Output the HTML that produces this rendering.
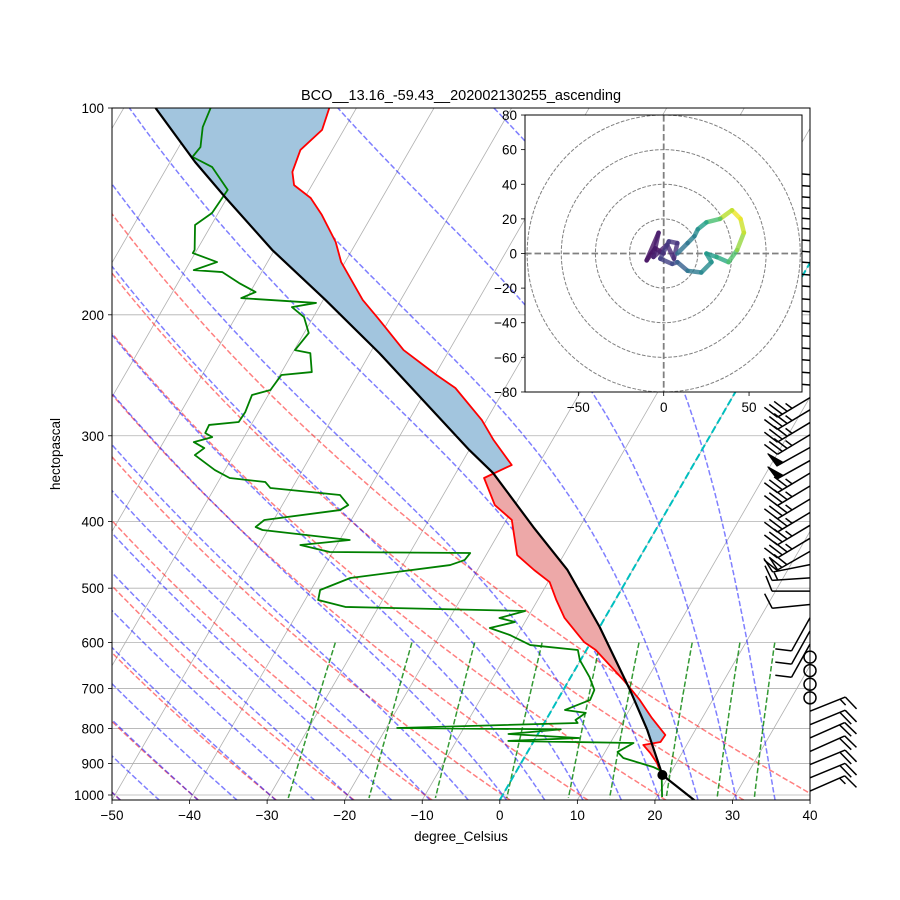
<!DOCTYPE html>
<html><head><meta charset="utf-8"><title>Skew-T</title>
<style>
html,body{margin:0;padding:0;background:#fff;}
svg{display:block;font-family:"Liberation Sans","DejaVu Sans",sans-serif;}
</style></head>
<body>
<svg id="chart" width="900" height="900" viewBox="0 0 900 900" xmlns="http://www.w3.org/2000/svg">
<defs>
<clipPath id="mainclip"><rect x="112" y="108" width="698" height="692"/></clipPath>
<clipPath id="hodoclip"><rect x="525" y="115" width="277" height="277"/></clipPath>
</defs>
<rect x="0" y="0" width="900" height="900" fill="#fff"/>
<g id="main" clip-path="url(#mainclip)"></g>
<g id="barbs"></g>
<rect x="112" y="108" width="698" height="692" fill="none" stroke="#000" stroke-width="1"/>
<g id="axes"></g>
<text x="461" y="100" font-size="14.5" text-anchor="middle">BCO__13.16_-59.43__202002130255_ascending</text>
<text x="461" y="841" font-size="13.5" text-anchor="middle">degree_Celsius</text>
<text x="60" y="454" font-size="13.5" text-anchor="middle" transform="rotate(-90 60 454)">hectopascal</text>
<g id="hodo"></g>
</svg>
<script>
// ---------- data ----------
const tempPressure=[100,107.6,115.1,123.9,129.5,135.2,143.1,156.7,167.6,190.3,202.2,225.1,244.7,255.6,284.6,304.3,330.9,345.6,378.4,397.8,447.4,470.4,489.8,520.2,552.5,598.8,615.1,680.1,727.2,772.4,817.8,837.2,845.6,868.6,898.1,935.1];
const temperature=[-73.5,-72.8,-74.1,-73.5,-72.3,-69.2,-66.5,-62.7,-60.5,-54.9,-51.6,-45.9,-39.8,-36.4,-30.6,-27.6,-23.4,-26.0,-22.6,-19.3,-16.0,-12.7,-9.8,-7.6,-5.2,-0.9,1.2,7.0,10.6,13.5,16.5,16.4,14.4,15.9,17.5,19.0];
const dewPressure=[100,106.6,114,117.8,121.9,131.6,142.2,148,160.9,162.6,167.6,172.2,173.3,179.8,185.3,189.1,192.2,194.9,201.5,212.6,225.1,227.4,242.3,244.7,257.3,261.7,277,286.5,289.3,297.2,301.3,306.4,312.6,320,336.5,345.6,350.3,357.4,365.9,378.4,384.8,397.8,407.3,411.4,425.4,432.6,442.9,444.4,455,462.7,483.2,503,520.2,532.4,539.7,552.5,560,571.3,584.9,605,615.1,636.2,673.3,703.3,727.2,752,759.5,777.6,785.5,798.8,802.5,815,826,834.3,840,865.6,883.3,910.4,922.7,1006.7];
const dewpoint=[-88.8,-88.4,-87.2,-87.5,-84.2,-80.5,-80.8,-82.1,-80.3,-80.3,-76.5,-78.9,-75.1,-72.1,-69.3,-70.7,-60.7,-63.5,-61.2,-59.4,-59.9,-57.7,-56.1,-59.8,-60.1,-62.1,-61.7,-61.8,-65.4,-65.3,-64.1,-66.1,-64.3,-65.0,-61.3,-58.8,-53.9,-52.8,-43.3,-41.5,-42.2,-51.2,-51.8,-50.7,-38.7,-44.7,-40.4,-22.2,-22.4,-23.9,-35.8,-38.8,-38.3,-34.3,-10.8,-13.6,-11.3,-14.1,-11.0,-7.6,-1.1,-0.1,2.4,4.0,4.2,1.7,4.6,3.8,4.3,-18.6,2.6,-3.8,5.6,-3.3,13.0,11.6,12.8,17.3,18.7,20.7];
const parcelPressure=[1030.6,935.1,804.2,703.3,569.5,470.4,407.3,339.9,314.6,227.4,190.3,160.9,134.8,119.8,100];
const parcelTemp=[26.0,19.1,13.8,8.6,0.0,-8.4,-16.0,-25.2,-30.0,-48.8,-59.7,-70.3,-80.3,-86.8,-95.9];
const dryThetas=[-50,-40,-30,-20,-10,0,10,20,30,40];
const moistT0=[-50,-45,-40,-35,-30,-25,-20,-15,-10,-5,0,5,10,15,20,25,30,35];
const mixingRatios=[0.0004,0.001,0.002,0.004,0.007,0.01,0.016,0.024,0.032];
const xTickLabels=[-50,-40,-30,-20,-10,0,10,20,30,40];
const yTickLabels=[100,200,300,400,500,600,700,800,900,1000];
const barbPressure=[125,130,135,140,145,150,156,162,168,175,182,190,198,206,215,224,233,243,253,264,275,287,299,312,326,340,355,371,388,405,423,442,462,483,505,528,552,577,603,630,659,690,722,755,790,826,864,903,944,987];
const barbU=[25,25,25,25,25,25,25,25,25,25,25,25,25,25,25,25,25,25,25,30,30,30,30,45,45,30,30,30,30,30,30,28,20,15,10,10,5,5,5,0,0,0,0,-15,-17,-18,-18,-17,-17,-16];
const barbV=[-2,-2,-2,-2,-2,-2,-2,-2,-2,-2,-2,-2,-2,-2,-2,-2,-2,-2,-2,18,18,18,18,25,25,18,18,18,18,18,18,16,4,1,0,1,9,9,9,0,0,0,0,-6,-7,-8,-8,-7,-7,-7];
const hodoU=[0,-5,-10,-3,-6,2,6,8,3,-2,5,8,14,22,28,25,31,38,43,47,45,40,33,25,20,18,14,8];
const hodoV=[0,3,-4,12,-2,5,-3,6,7,-3,-6,-5,-10,-11,-5,0,-2,-5,2,12,20,25,20,18,14,10,6,0];
const hodoC=[0,0.02,0.04,0.06,0.08,0.1,0.12,0.14,0.16,0.18,0.2,0.25,0.35,0.45,0.5,0.52,0.56,0.65,0.78,0.9,0.95,1.0,0.78,0.62,0.5,0.45,0.4,0.35];
const hodoTicks=[-50,0,50];
const hodoYTicks=[80,60,40,20,0,-20,-40,-60,-80];
const hodoRings=[20,40,60,80];

// ---------- scales ----------
const NS='http://www.w3.org/2000/svg';
const X0=112,YB=800,PX=7.756,SK=0.5774,PBOT=1017;
function yP(p){return 108+687*Math.log10(p/100);}
function xT(t,p){return X0+(t+50)*PX+(YB-yP(p))*SK;}
function hx(u){return 663.7+u*1.707;}
function hy(v){return 253.5-v*1.731;}
function mk(tag,attrs,parent){const e=document.createElementNS(NS,tag);for(const k in attrs)e.setAttribute(k,attrs[k]);parent.appendChild(e);return e;}
function pts(arrP,arrT){return arrP.map((p,i)=>xT(arrT[i],p).toFixed(2)+','+yP(p).toFixed(2)).join(' ');}
const main=document.getElementById('main'),axes=document.getElementById('axes'),barbs=document.getElementById('barbs'),hodo=document.getElementById('hodo');

// gridlines
for(let t=-160;t<=40;t+=10){
  const l=mk('line',{x1:xT(t,PBOT),y1:YB,x2:xT(t,100),y2:108,stroke:'#b0b0b0','stroke-width':0.8},main);
  
  
}
yTickLabels.forEach(p=>{
  const l=mk('line',{x1:112,x2:810,y1:yP(p),y2:yP(p),stroke:'#b0b0b0','stroke-width':0.8},main);
  
  
});
// dry adiabats
dryThetas.forEach(th=>{
  const a=[];for(let p=PBOT;p>=100;p-=5){const T=(th+273.15)*Math.pow(p/1000,0.2857)-273.15;a.push(xT(T,p).toFixed(1)+','+yP(p).toFixed(1));}
  const l=mk('polyline',{points:a.join(' '),fill:'none',stroke:'#ff0000','stroke-opacity':0.5,'stroke-width':1.5,'stroke-dasharray':'5.5,2.4'},main);
  
  
});
// moist adiabats
function es(tc){return 6.112*Math.exp(17.67*tc/(tc+243.5));}
function dTdp(p,T){const Rd=287.04,Cp=1005.7,Lv=2.501e6,eps=0.622;const e=es(T-273.15);const rs=eps*e/(p-e);return (1/p)*(Rd*T+Lv*rs)/(Cp+Lv*Lv*rs*eps/(Rd*T*T));}
function moist(t0){
  const up=[],dn=[];let T=t0+273.15,p=1000,h=-2;
  up.push([p,T]);
  while(p>100){const k1=dTdp(p,T),k2=dTdp(p+h/2,T+h/2*k1);T+=h*k2;p+=h;up.push([p,T]);}
  T=t0+273.15;p=1000;h=2;
  while(p<PBOT){const k1=dTdp(p,T),k2=dTdp(p+h/2,T+h/2*k1);T+=h*k2;p+=h;dn.unshift([p,T]);}
  return dn.concat(up);
}
moistT0.forEach(t0=>{
  const a=moist(t0).map(q=>xT(q[1]-273.15,q[0]).toFixed(1)+','+yP(q[0]).toFixed(1));
  const l=mk('polyline',{points:a.join(' '),fill:'none',stroke:'#0000ff','stroke-opacity':0.5,'stroke-width':1.5,'stroke-dasharray':'5.5,2.4'},main);
  
  
});
// mixing ratio lines
mixingRatios.forEach(w=>{
  const a=[];for(let p=600;p<=PBOT;p+=10){const e=p*w/(0.622+w);const L=Math.log(e/6.112);const td=243.5*L/(17.67-L);a.push(xT(td,p).toFixed(1)+','+yP(p).toFixed(1));}
  const l=mk('polyline',{points:a.join(' '),fill:'none',stroke:'#008000','stroke-opacity':0.8,'stroke-width':1.5,'stroke-dasharray':'5.5,2.4'},main);
  
  
});
// zero isotherm
const zl=mk('line',{x1:xT(0,PBOT),y1:YB,x2:xT(0,100),y2:108,stroke:'#00bfbf','stroke-width':2,'stroke-dasharray':'7.4,3.2'},main);



// CAPE / CIN shading
function interpX(arrP,arrT,y){
  const ys=arrP.map(yP),xs=arrP.map((p,i)=>xT(arrT[i],p));
  for(let i=0;i<ys.length-1;i++){const a=Math.min(ys[i],ys[i+1]),b=Math.max(ys[i],ys[i+1]);if(y>=a&&y<=b){const f=(ys[i+1]===ys[i])?0:(y-ys[i])/(ys[i+1]-ys[i]);return xs[i]+f*(xs[i+1]-xs[i]);}}
  return null;
}
let cin='',cape='';
const yTop=yP(100),yBot=yP(parcelPressure[1]);
for(let y=yTop;y<yBot;y+=1){
  const y2=Math.min(y+1,yBot);
  const a1=interpX(tempPressure,temperature,y),b1=interpX(parcelPressure,parcelTemp,y);
  const a2=interpX(tempPressure,temperature,y2),b2=interpX(parcelPressure,parcelTemp,y2);
  if(a1===null||b1===null||a2===null||b2===null)continue;
  const q=`M${a1.toFixed(2)},${y.toFixed(2)}L${a2.toFixed(2)},${y2.toFixed(2)}L${b2.toFixed(2)},${y2.toFixed(2)}L${b1.toFixed(2)},${y.toFixed(2)}Z`;
  if((b1+b2)<(a1+a2))cin+=q;else cape+=q;
}
const cinP=mk('path',{d:cin,fill:'#a2c5de',stroke:'#a2c5de','stroke-width':0.6},main);


const capeP=mk('path',{d:cape,fill:'#eda8a8',stroke:'#eda8a8','stroke-width':0.6},main);



// profiles
const tl=mk('polyline',{points:pts(tempPressure,temperature),fill:'none',stroke:'#ff0000','stroke-width':1.8,'stroke-linejoin':'round'},main);


const dl=mk('polyline',{points:pts(dewPressure,dewpoint),fill:'none',stroke:'#008000','stroke-width':1.8,'stroke-linejoin':'round'},main);


const pl=mk('polyline',{points:pts(parcelPressure,parcelTemp),fill:'none',stroke:'#000','stroke-width':2.2,'stroke-linejoin':'round'},main);


const dot=mk('circle',{cx:xT(parcelTemp[1],parcelPressure[1]),cy:yP(parcelPressure[1]),r:5,fill:'#000'},main);



// ticks
xTickLabels.forEach(t=>{
  const x=X0+(t+50)*PX;
  const tk=mk('line',{x1:x,x2:x,y1:800,y2:804,stroke:'#000','stroke-width':0.8},axes);
  
  
  const tx=mk('text',{x:x,y:820,'font-size':13.5,'text-anchor':'middle'},axes);
  tx.textContent=String(t).replace('-','\u2212');
  
  
});
yTickLabels.forEach(p=>{
  const y=yP(p);
  const tk=mk('line',{x1:108,x2:112,y1:y,y2:y,stroke:'#000','stroke-width':0.8},axes);
  
  
  const tx=mk('text',{x:104,y:y+5,'font-size':13.5,'text-anchor':'end'},axes);
  tx.textContent=String(p);
  
  
});

// wind barbs
const BL=38;
barbPressure.forEach((p,i)=>{
  const u=barbU[i],v=barbV[i];const x=810,y=yP(p);const spd=Math.hypot(u,v);
  const g=mk('g',{},barbs);
  
  
  if(spd<2.5){mk('circle',{cx:x,cy:y,r:6,fill:'none',stroke:'#000','stroke-width':1.5},g);return;}
  const dx=-u/spd,dy=v/spd;const nx=-dy,ny=dx;
  const tx=x+dx*BL,ty=y+dy*BL;
  mk('line',{x1:x,y1:y,x2:tx,y2:ty,stroke:'#000','stroke-width':1.5},g);
  let s=Math.round(spd/5)*5;let pos=0;const bh=0.4*BL,sp=0.15*BL;
  while(s>=50){const px=tx-dx*pos,py=ty-dy*pos;mk('polygon',{points:`${px},${py} ${px-dx*sp*1.3},${py-dy*sp*1.3} ${px+nx*bh+dx*2},${py+ny*bh+dy*2}`,fill:'#000',stroke:'#000','stroke-width':1},g);pos+=sp*1.6;s-=50;}
  while(s>=10){const px=tx-dx*pos,py=ty-dy*pos;mk('line',{x1:px,y1:py,x2:px+nx*bh+dx*bh*0.4,y2:py+ny*bh+dy*bh*0.4,stroke:'#000','stroke-width':1.5},g);pos+=sp;s-=10;}
  if(s>=5){if(pos===0)pos=sp;const px=tx-dx*pos,py=ty-dy*pos;mk('line',{x1:px,y1:py,x2:px+nx*bh*0.5+dx*bh*0.2,y2:py+ny*bh*0.5+dy*bh*0.2,stroke:'#000','stroke-width':1.5},g);}
});

// hodograph inset
const hb=mk('rect',{x:525,y:115,width:277,height:277,fill:'#fff',stroke:'none'},hodo);


const hg=mk('g',{'clip-path':'url(#hodoclip)'},hodo);


hodoRings.forEach(r=>{
  const c=mk('ellipse',{cx:hx(0),cy:hy(0),rx:r*1.707,ry:r*1.731,fill:'none',stroke:'#808080','stroke-width':1,'stroke-dasharray':'3.7,1.6'},hg);
  
  
});
const ha1=mk('line',{x1:525,x2:802,y1:hy(0),y2:hy(0),stroke:'#808080','stroke-width':1.8,'stroke-dasharray':'6.6,2.9'},hg);


const ha2=mk('line',{x1:hx(0),x2:hx(0),y1:115,y2:392,stroke:'#808080','stroke-width':1.8,'stroke-dasharray':'6.6,2.9'},hg);


const VIR=[[68,1,84],[72,40,120],[62,74,137],[49,104,142],[38,130,142],[31,158,137],[53,183,121],[110,206,88],[181,222,43],[253,231,37]];
function vir(c){const f=Math.max(0,Math.min(1,c))*(VIR.length-1);const i=Math.min(VIR.length-2,Math.floor(f));const r=f-i;const a=VIR[i],b=VIR[i+1];return `rgb(${Math.round(a[0]+(b[0]-a[0])*r)},${Math.round(a[1]+(b[1]-a[1])*r)},${Math.round(a[2]+(b[2]-a[2])*r)})`;}
for(let i=0;i<hodoU.length-1;i++){
  const s=mk('line',{x1:hx(hodoU[i]),y1:hy(hodoV[i]),x2:hx(hodoU[i+1]),y2:hy(hodoV[i+1]),stroke:vir((hodoC[i]+hodoC[i+1])/2),'stroke-width':4.5,'stroke-linecap':'round','stroke-opacity':0.8},hg);
  
  
}
const hf=mk('rect',{x:525,y:115,width:277,height:277,fill:'none',stroke:'#000','stroke-width':1},hodo);


hodoTicks.forEach(t=>{
  const x=hx(t);
  const tk=mk('line',{x1:x,x2:x,y1:392,y2:396,stroke:'#000','stroke-width':0.8},hodo);
  
  
  const tx=mk('text',{x:x,y:412,'font-size':13.5,'text-anchor':'middle'},hodo);
  tx.textContent=String(t).replace('-','\u2212');
  
  
});
hodoYTicks.forEach(t=>{
  const y=hy(t);
  const tk=mk('line',{x1:521,x2:525,y1:y,y2:y,stroke:'#000','stroke-width':0.8},hodo);
  
  
  const tx=mk('text',{x:517,y:y+5,'font-size':13.5,'text-anchor':'end'},hodo);
  tx.textContent=String(t).replace('-','\u2212');
  
  
});
</script>
</body></html>
